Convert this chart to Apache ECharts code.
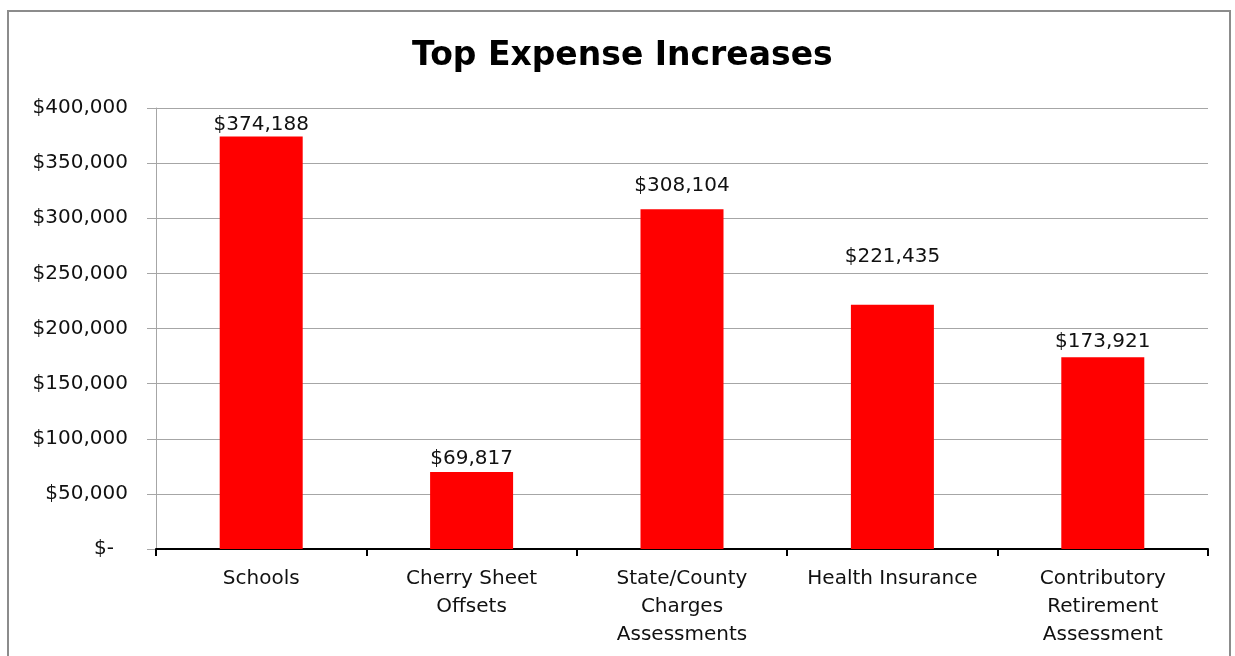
<!DOCTYPE html>
<html>
<head>
<meta charset="utf-8">
<script src="https://cdn.jsdelivr.net/npm/echarts@6/dist/echarts.min.js"></script>
<style>
html,body{margin:0;padding:0;background:#fff;}
#chart{width:1235px;height:656px;}
</style>
</head>
<body>
<div id="chart"></div>
<script>
const title = 'Top Expense Increases';
const categories = ['Schools', 'Cherry Sheet\nOffsets', 'State/County\nCharges\nAssessments', 'Health Insurance', 'Contributory\nRetirement\nAssessment'];
const values = [374188, 69817, 308104, 221435, 173921];
const yTicks = { min: 0, max: 400000, interval: 50000 };

// label distances (styling, as placed in the original)
const labelDistances = [2, 3, 14, 38, 5];

const FONT = 'DejaVu Sans';
function money(v) {
  if (v === 0) return '$-';
  return '$' + v.toLocaleString('en-US');
}

const chart = echarts.init(document.getElementById('chart'));
chart.setOption({
  backgroundColor: '#ffffff',
  animation: false,
  title: {
    text: title,
    left: 407,
    top: 35,
    textStyle: { fontFamily: FONT, fontSize: 33, fontWeight: 'bold', color: '#000' }
  },
  graphic: [{
    type: 'rect',
    shape: { x: 8, y: 11, width: 1222, height: 700 },
    style: { fill: 'none', stroke: '#8c8c8c', lineWidth: 2 },
    silent: true
  }],
  grid: { left: 156, right: 27, top: 108, bottom: 107, containLabel: false },
  xAxis: {
    type: 'category',
    data: categories,
    axisLine: { lineStyle: { color: '#000', width: 2 } },
    axisTick: { show: true, length: 7, lineStyle: { color: '#000', width: 2 } },
    axisLabel: { fontFamily: FONT, fontSize: 20, color: '#111', lineHeight: 28, margin: 16, interval: 0 }
  },
  yAxis: {
    type: 'value',
    min: yTicks.min, max: yTicks.max, interval: yTicks.interval,
    axisLine: { show: true, lineStyle: { color: '#a6a6a6', width: 1 } },
    axisTick: { show: true, length: 9, lineStyle: { color: '#a6a6a6', width: 1 } },
    splitLine: { lineStyle: { color: '#a6a6a6', width: 1 } },
    axisLabel: {
      fontFamily: FONT, fontSize: 20, color: '#111', margin: 28,
      formatter: v => v === 0 ? '{z|' + money(v) + '}' : money(v),
      rich: { z: { fontFamily: FONT, fontSize: 20, color: '#111', padding: [0, 14, 0, 0] } }
    }
  },
  series: [{
    type: 'bar',
    data: values.map((v, i) => ({ value: v, label: { distance: labelDistances[i] } })),
    barWidth: 83,
    itemStyle: { color: '#ff0000' },
    label: {
      show: true,
      position: 'top',
      fontFamily: FONT, fontSize: 20, color: '#111',
      formatter: p => money(p.value)
    }
  }]
});
</script>
</body>
</html>
